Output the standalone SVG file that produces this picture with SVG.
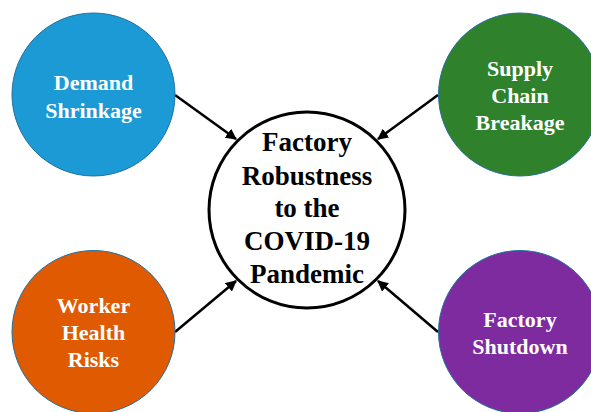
<svg xmlns="http://www.w3.org/2000/svg" width="591" height="412" viewBox="0 0 591 412">
<defs>
<style>
.node{stroke:#1f6f9f;stroke-width:1}
.lbl{font-family:"Liberation Serif","Times New Roman",serif;font-weight:bold;font-size:22px;fill:#fff;text-anchor:middle}
.ctr{font-family:"Liberation Serif","Times New Roman",serif;font-weight:bold;font-size:27px;fill:#000;text-anchor:middle}
.conn{stroke:#000;stroke-width:2.5;fill:none;marker-end:url(#ah)}
</style>
<marker id="ah" viewBox="0 0 10 10" refX="9" refY="5" markerWidth="4.4" markerHeight="4.4" orient="auto" markerUnits="strokeWidth">
<path d="M0,0 L10,5 L0,10 z" fill="#000"/>
</marker>
</defs>
<rect width="591" height="412" fill="#fff"/>
<g id="connectors">
<line class="conn" x1="175" y1="95" x2="236" y2="139"/>
<line class="conn" x1="438" y1="95" x2="378" y2="139"/>
<line class="conn" x1="175" y1="332" x2="236" y2="281"/>
<line class="conn" x1="438" y1="332" x2="378" y2="281"/>
</g>
<g id="center">
<circle cx="307" cy="210" r="98" fill="#fff" stroke="#000" stroke-width="3"/>
<text class="ctr" x="307" y="151">Factory</text>
<text class="ctr" x="307" y="185">Robustness</text>
<text class="ctr" x="307" y="217">to the</text>
<text class="ctr" x="307" y="250">COVID-19</text>
<text class="ctr" x="307" y="283">Pandemic</text>
</g>
<g id="demand">
<circle class="node" cx="93.5" cy="94.5" r="81.5" fill="#1b9ad6"/>
<text class="lbl" x="93.5" y="90">Demand</text>
<text class="lbl" x="93.5" y="118">Shrinkage</text>
</g>
<g id="supply">
<circle class="node" cx="520" cy="94.5" r="81.5" fill="#2f812c"/>
<text class="lbl" x="520" y="76">Supply</text>
<text class="lbl" x="520" y="103">Chain</text>
<text class="lbl" x="520" y="130">Breakage</text>
</g>
<g id="worker">
<circle class="node" cx="93.5" cy="332" r="81.5" fill="#df5a00"/>
<text class="lbl" x="93.5" y="313">Worker</text>
<text class="lbl" x="93.5" y="340">Health</text>
<text class="lbl" x="93.5" y="367">Risks</text>
</g>
<g id="shutdown">
<circle class="node" cx="520" cy="332" r="81.5" fill="#7f2ba0"/>
<text class="lbl" x="520" y="327">Factory</text>
<text class="lbl" x="520" y="354">Shutdown</text>
</g>
</svg>
